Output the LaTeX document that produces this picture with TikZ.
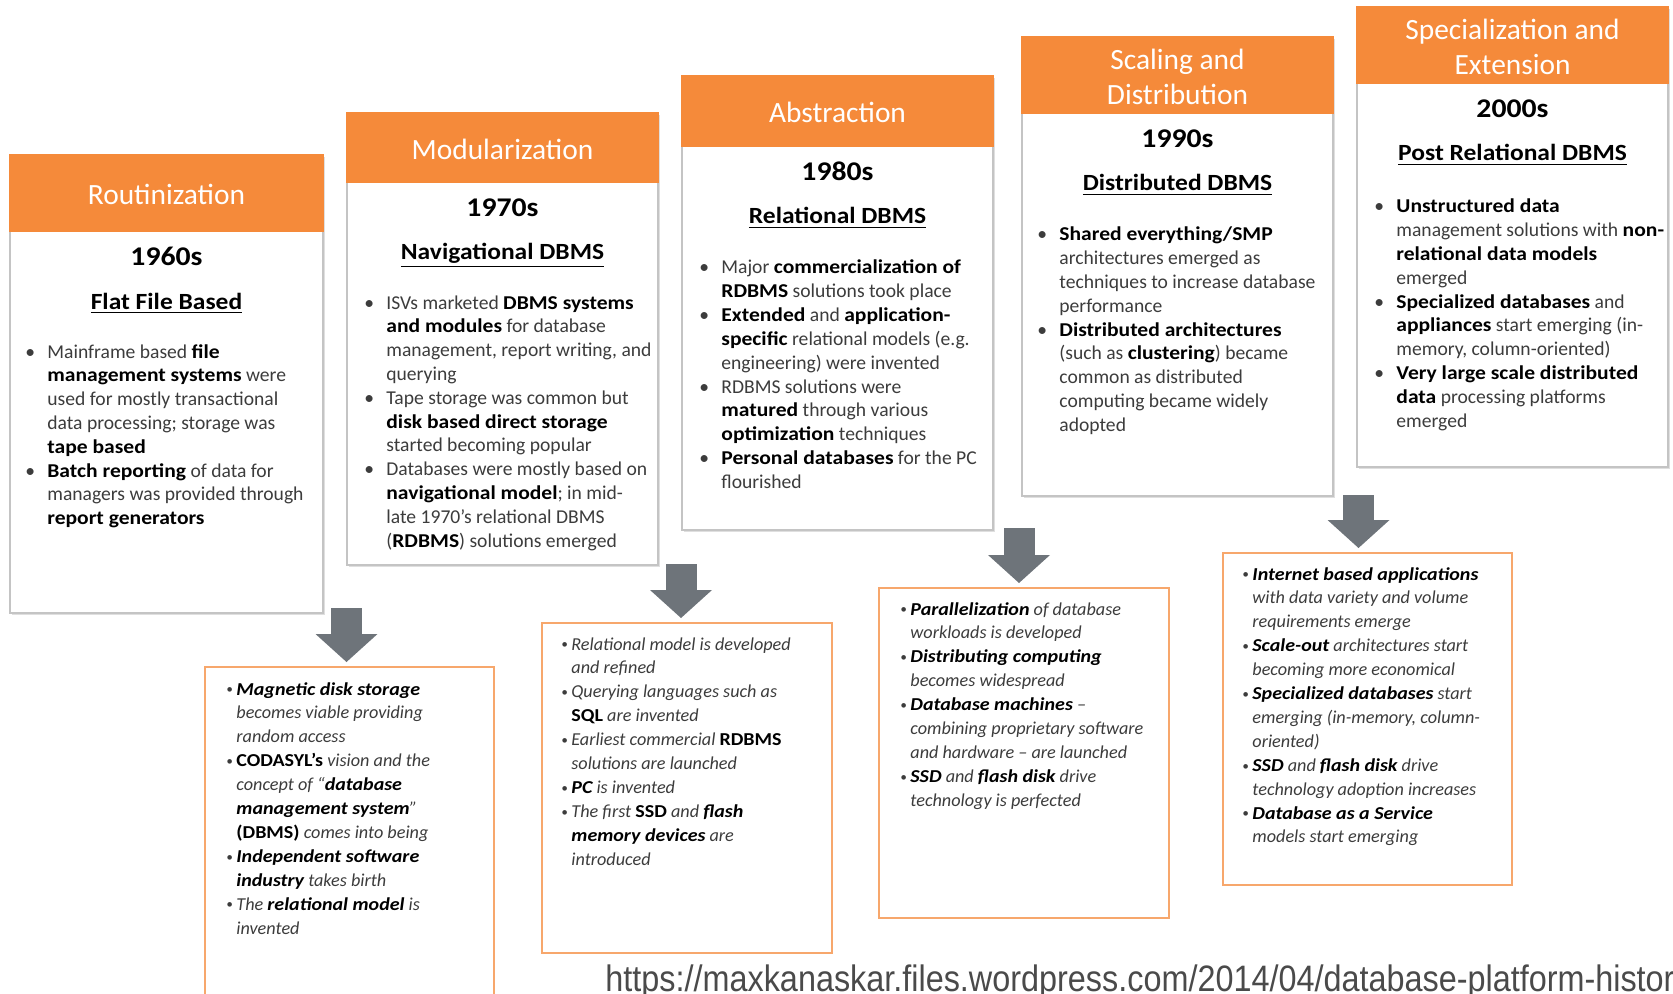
\documentclass[tikz,border=0pt]{standalone}
\usepackage{fontspec}
\setmainfont{Carlito}[BoldFeatures={FakeStretch=1.1},BoldItalicFeatures={FakeStretch=1.1}]
\newfontfamily\urlfont[FakeStretch=0.88]{Liberation Sans}
\usepackage{xcolor}
\usepackage{tikz}
\usetikzlibrary{arrows.meta,positioning,fit,calc,shadows}
\definecolor{hdrorange}{HTML}{F58A3A}
\definecolor{techorange}{HTML}{F7A76C}
\definecolor{boxgray}{HTML}{C4C4C4}
\definecolor{arrowgray}{HTML}{6E747A}
\definecolor{bodygray}{HTML}{3C3C3C}
\definecolor{urlgray}{HTML}{4A4A4A}
\newcommand{\kw}[1]{{\bfseries\color{black}#1}}
\newcommand{\kwup}[1]{{\upshape\bfseries\color{black}#1}}
\newcommand{\bu}{\makebox[11pt][l]{\textbullet}}
\newcommand{\sbu}{\makebox[5pt][l]{\raisebox{.6pt}{\fontsize{6.5}{6.5}\selectfont\textbullet}}}
\newcommand{\items}[1]{\begin{tabular}[t]{@{}l@{}l@{}}#1\end{tabular}}
\tikzset{
  erabox/.style={
    rectangle, draw=boxgray, line width=1pt, fill=white,
    inner sep=0pt, outer sep=0pt,
    drop shadow={shadow xshift=1pt, shadow yshift=-1pt, opacity=0.25}
  },
  erahead/.style={
    rectangle, draw=hdrorange, fill=hdrorange, line width=1pt,
    inner sep=0pt, outer sep=0pt
  },
  headtxt/.style={
    inner sep=0pt, text=white, align=center, yshift=-0.8pt,
    font=\fontsize{14.7}{17.5}\selectfont
  },
  yearlbl/.style={
    inner sep=0pt, font=\fontsize{13.5}{15}\selectfont\bfseries
  },
  eratitle/.style={
    inner sep=0pt, font=\fontsize{11.6}{13}\selectfont\bfseries
  },
  eralist/.style={
    inner sep=0pt, anchor=base west, text=bodygray,
    font=\fontsize{9.8}{11.9}\selectfont
  },
  techbox/.style={
    rectangle, draw=techorange, line width=1pt, fill=white,
    inner sep=0pt, outer sep=0pt
  },
  techlist/.style={
    inner sep=0pt, anchor=base west, text=bodygray,
    font=\fontsize{9.1}{11.95}\selectfont\itshape
  },
  blockarrow/.style={
    draw=arrowgray, line width=15.5pt,
    -{Triangle[width=31pt, length=14pt, line width=0pt]},
    shorten >=2.5pt
  },
}

\begin{document}
\begin{tikzpicture}[x=0.5pt, y=-0.5pt]
  \useasboundingbox (0,0) rectangle (1673,994);

  % Eras
  \node[erabox, fit={(10,155) (323,613)}] (era1) {};
  \node[erahead, fit={(10,155) (323,231)},
    label={[headtxt]center:Routinization}] (h1) {};
  \node[erabox, fit={(347,113) (658,565)}] (era2) {};
  \node[erahead, fit={(347,113) (658,182)},
    label={[headtxt]center:Modularization}] (h2) {};
  \node[erabox, fit={(682,76) (993,530)}] (era3) {};
  \node[erahead, fit={(682,76) (993,146)},
    label={[headtxt]center:Abstraction}] (h3) {};
  \node[erabox, fit={(1022,37) (1333,496)}] (era4) {};
  \node[erahead, fit={(1022,37) (1333,113)},
    label={[headtxt]center:{Scaling and\\Distribution}}] (h4) {};
  \node[erabox, fit={(1357,7) (1668,467)}] (era5) {};
  \node[erahead, fit={(1357,7) (1668,83)},
    label={[headtxt]center:{Specialization and\\Extension}}] (h5) {};

  % Decades
  \node[yearlbl, below=17.5pt of h1, anchor=base] (y1) {1960s};
  \node[yearlbl, below=17.5pt of h2, anchor=base] (y2) {1970s};
  \node[yearlbl, below=17.5pt of h3, anchor=base] (y3) {1980s};
  \node[yearlbl, below=17.5pt of h4, anchor=base] (y4) {1990s};
  \node[yearlbl, below=17.5pt of h5, anchor=base] (y5) {2000s};

  % DBMS kinds
  \node[eratitle, below=21.5pt of y1.base, anchor=base] (t1) {\underline{Flat File Based}};
  \node[eratitle, below=21.5pt of y2.base, anchor=base] (t2) {\underline{Navigational DBMS}};
  \node[eratitle, below=21.5pt of y3.base, anchor=base] (t3) {\underline{Relational DBMS}};
  \node[eratitle, below=21.5pt of y4.base, anchor=base] (t4) {\underline{Distributed DBMS}};
  \node[eratitle, below=21.5pt of y5.base, anchor=base] (t5) {\underline{Post Relational DBMS}};

  % Era bullets
  \node[eralist] (l1) at ($(h1.south west)+(15,127)$) {\items{
    \bu & Mainframe based \kw{file}\\
        & \kw{management systems} were\\
        & used for mostly transactional\\
        & data processing; storage was\\
        & \kw{tape based}\\
    \bu & \kw{Batch reporting} of data for\\
        & managers was provided through\\
        & \kw{report generators}}};
  \node[eralist] (l2) at ($(h2.south west)+(17,127)$) {\items{
    \bu & ISVs marketed \kw{DBMS systems}\\
        & \kw{and modules} for database\\
        & management, report writing, and\\
        & querying\\
    \bu & Tape storage was common but\\
        & \kw{disk based direct storage}\\
        & started becoming popular\\
    \bu & Databases were mostly based on\\
        & \kw{navigational model}; in mid-\\
        & late 1970’s relational DBMS\\
        & (\kw{RDBMS}) solutions emerged}};
  \node[eralist] (l3) at ($(h3.south west)+(17,128)$) {\items{
    \bu & Major \kw{commercialization of}\\
        & \kw{RDBMS} solutions took place\\
    \bu & \kw{Extended} and \kw{application-}\\
        & \kw{specific} relational models (e.g.\\
        & engineering) were invented\\
    \bu & RDBMS solutions were\\
        & \kw{matured} through various\\
        & \kw{optimization} techniques\\
    \bu & \kw{Personal databases} for the PC\\
        & flourished}};
  \node[eralist] (l4) at ($(h4.south west)+(15,128)$) {\items{
    \bu & \kw{Shared everything/SMP}\\
        & architectures emerged as\\
        & techniques to increase database\\
        & performance\\
    \bu & \kw{Distributed architectures}\\
        & (such as \kw{clustering}) became\\
        & common as distributed\\
        & computing became widely\\
        & adopted}};
  \node[eralist] (l5) at ($(h5.south west)+(17,130)$) {\items{
    \bu & \kw{Unstructured data}\\
        & management solutions with \kw{non-}\\
        & \kw{relational data models}\\
        & emerged\\
    \bu & \kw{Specialized databases} and\\
        & \kw{appliances} start emerging (in-\\
        & memory, column-oriented)\\
    \bu & \kw{Very large scale distributed}\\
        & \kw{data} processing platforms\\
        & emerged}};

  % Technology boxes
  \node[techbox, fit={(205,667) (494,998)}] (tech1) {};
  \node[techbox, fit={(542,623) (832,953)}] (tech2) {};
  \node[techbox, fit={(879,588) (1169,918)}] (tech3) {};
  \node[techbox, fit={(1223,553) (1512,885)}] (tech4) {};

  \node[techlist] (tl1) at ($(tech1.north west)+(21,28)$) {\items{
    \sbu & \kw{Magnetic disk storage}\\
         & becomes viable providing\\
         & random access\\
    \sbu & \kwup{CODASYL’s} vision and the\\
         & concept of “\kw{database}\\
         & \kw{management system}”\\
         & \kwup{(DBMS)} comes into being\\
    \sbu & \kw{Independent software}\\
         & \kw{industry} takes birth\\
    \sbu & The \kw{relational model} is\\
         & invented}};
  \node[techlist] (tl2) at ($(tech2.north west)+(19,27)$) {\items{
    \sbu & Relational model is developed\\
         & and refined\\
    \sbu & Querying languages such as\\
         & \kwup{SQL} are invented\\
    \sbu & Earliest commercial \kwup{RDBMS}\\
         & solutions are launched\\
    \sbu & \kw{PC} is invented\\
    \sbu & The first \kwup{SSD} and \kw{flash}\\
         & \kw{memory devices} are\\
         & introduced}};
  \node[techlist] (tl3) at ($(tech3.north west)+(21,27)$) {\items{
    \sbu & \kw{Parallelization} of database\\
         & workloads is developed\\
    \sbu & \kw{Distributing computing}\\
         & becomes widespread\\
    \sbu & \kw{Database machines} –\\
         & combining proprietary software\\
         & and hardware – are launched\\
    \sbu & \kw{SSD} and \kw{flash disk} drive\\
         & technology is perfected}};
  \node[techlist] (tl4) at ($(tech4.north west)+(19,27)$) {\items{
    \sbu & \kw{Internet based applications}\\
         & with data variety and volume\\
         & requirements emerge\\
    \sbu & \kw{Scale-out} architectures start\\
         & becoming more economical\\
    \sbu & \kw{Specialized databases} start\\
         & emerging (in-memory, column-\\
         & oriented)\\
    \sbu & \kw{SSD} and \kw{flash disk} drive\\
         & technology adoption increases\\
    \sbu & \kw{Database as a Service}\\
         & models start emerging}};

  % Arrows
  \coordinate (a1) at (346.5,608);
  \coordinate (a2) at (681,564);
  \coordinate (a3) at (1019,528);
  \coordinate (a4) at (1358.5,495);
  \draw[blockarrow] (a1) -- (a1 |- tech1.north);
  \draw[blockarrow] (a2) -- (a2 |- tech2.north);
  \draw[blockarrow] (a3) -- (a3 |- tech3.north);
  \draw[blockarrow] (a4) -- (a4 |- tech4.north);

  % Source
  \node[anchor=base west, inner sep=0pt, text=urlgray,
    font=\urlfont\fontsize{18.4}{20}\selectfont] (src) at (605,991)
    {https://maxkanaskar.files.wordpress.com/2014/04/database-platform-history};
\end{tikzpicture}
\end{document}
